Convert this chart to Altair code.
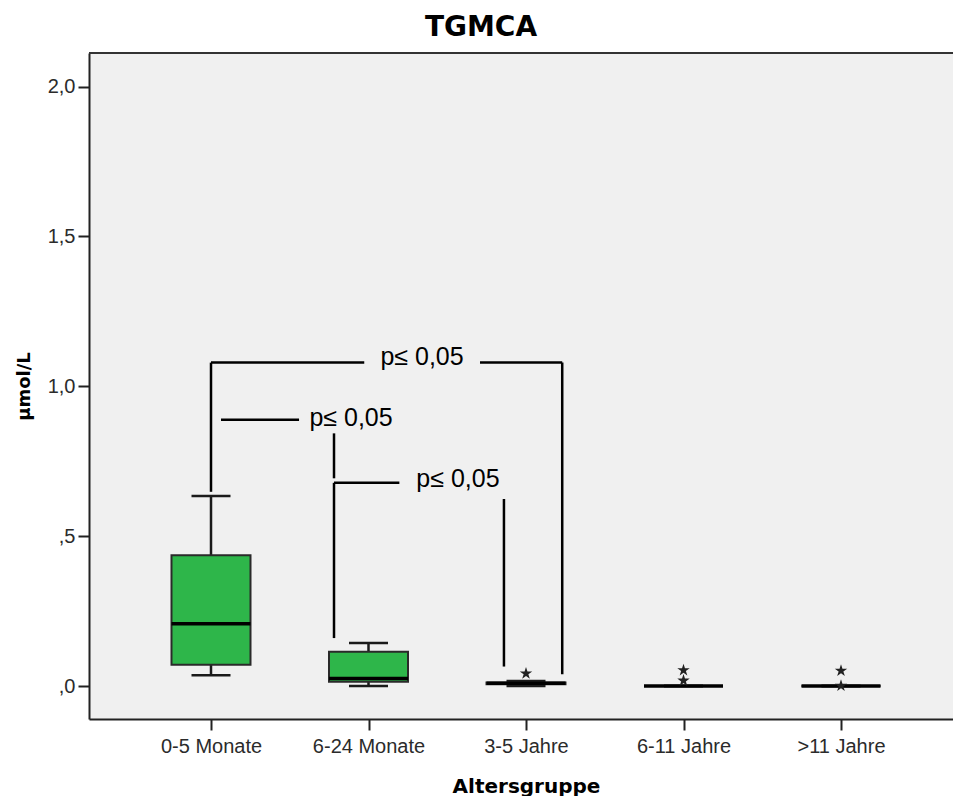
import json
import altair as alt
import pandas as pd

# ---------------- data ----------------
groups = ["0-5 Monate", "6-24 Monate", "3-5 Jahre", "6-11 Jahre", ">11 Jahre"]
group_idx = [0, 1, 2, 3, 4]
whisker_low = [0.036, 0.000, 0.000, 0.000, 0.000]
q1 = [0.071, 0.014, 0.006, 0.000, 0.000]
median = [0.208, 0.025, 0.009, 0.000, 0.000]
q3 = [0.436, 0.1145, 0.012, 0.000, 0.000]
whisker_high = [0.634, 0.1435, 0.017, 0.000, 0.000]

outlier_group = [2, 3, 3, 4, 4]
outlier_value = [0.042, 0.053, 0.018, 0.051, 0.001]

# significance brackets (x in category-index units, y in µmol/L)
seg_x = [0.0, 0.0, 1.708, 2.230, 0.0635, 0.781, 0.781, 0.781, 1.860]
seg_x2 = [0.0, 0.973, 2.230, 2.230, 0.559, 0.781, 1.196, 0.781, 1.860]
seg_y = [0.648, 1.079, 1.079, 0.039, 0.888, 0.693, 0.678, 0.160, 0.065]
seg_y2 = [1.079, 1.079, 1.079, 1.079, 0.888, 0.843, 0.678, 0.678, 0.624]

p_x = [1.340, 0.889, 1.568]
p_y = [1.099, 0.894, 0.691]
p_text = ["p≤ 0,05", "p≤ 0,05", "p≤ 0,05"]

y_ticks = [0.0, 0.5, 1.0, 1.5, 2.0]

# ---------------- tables ----------------
box_df = pd.DataFrame({
    "idx": group_idx, "group": groups, "lo": whisker_low, "q1": q1,
    "med": median, "q3": q3, "hi": whisker_high,
})
out_df = pd.DataFrame({"idx": outlier_group, "val": outlier_value})
seg_df = pd.DataFrame({"x": seg_x, "x2": seg_x2, "y": seg_y, "y2": seg_y2})
p_df = pd.DataFrame({"x": p_x, "y": p_y, "t": p_text})

label_expr = json.dumps(groups) + "[datum.value]"

xscale = alt.Scale(domain=[-0.7746, 4.7111], nice=False, zero=False, padding=0)
yscale = alt.Scale(domain=[-0.110, 2.112], nice=False, zero=False, padding=0)

x_axis = alt.Axis(
    values=group_idx, labelExpr=label_expr, title="Altersgruppe",
    grid=False, domainColor="#222222", domainWidth=2, tickColor="#222222",
    tickWidth=2, tickSize=11, labelFont="Liberation Sans", labelFontSize=20,
    labelColor="#2b2b2b", labelPadding=6, titleFont="DejaVu Sans",
    titleFontSize=20, titleFontWeight="bold", titleColor="#000000",
    titleX=437, titleY=73, titleBaseline="alphabetic", titleAnchor="start",
    titleAlign="center", labelFlush=False,
)
y_axis = alt.Axis(
    values=y_ticks,
    labelExpr="datum.value < 1 ? replace(format(datum.value, '.1f'), '0.', ',') : replace(format(datum.value, '.1f'), '.', ',')",
    title="µmol/L", grid=False, domainColor="#222222", domainWidth=2,
    tickColor="#222222", tickWidth=2, tickSize=11, labelFont="Liberation Sans",
    labelFontSize=20, labelColor="#2b2b2b", labelPadding=3,
    titleFont="DejaVu Sans", titleFontSize=18, titleFontWeight="bold",
    titleColor="#000000", titleX=-60, titleY=333, titleBaseline="alphabetic",
    titleAngle=-90, titleAlign="center", labelFlush=False,
)

base_box = alt.Chart(box_df)

whisker = base_box.mark_rule(color="#1a1a1a", strokeWidth=2.5).encode(
    x=alt.X("idx:Q", scale=xscale, axis=x_axis),
    y=alt.Y("lo:Q", scale=yscale, axis=y_axis),
    y2="hi:Q",
)
caps_lo = base_box.mark_tick(orient="horizontal", size=39, thickness=2.5, color="#1a1a1a", opacity=1).encode(
    x=alt.X("idx:Q", scale=xscale), y=alt.Y("lo:Q", scale=yscale)
)
caps_hi = base_box.mark_tick(orient="horizontal", size=39, thickness=2.5, color="#1a1a1a", opacity=1).encode(
    x=alt.X("idx:Q", scale=xscale), y=alt.Y("hi:Q", scale=yscale)
)
boxes = base_box.mark_bar(size=79, color="#2eb64a", stroke="#2a2a2a", strokeWidth=2).encode(
    x=alt.X("idx:Q", scale=xscale), y=alt.Y("q1:Q", scale=yscale), y2="q3:Q"
)
medians = base_box.mark_tick(orient="horizontal", size=79, thickness=3.5, color="#000000", opacity=1).encode(
    x=alt.X("idx:Q", scale=xscale), y=alt.Y("med:Q", scale=yscale)
)

star_path = ("M0,-1L0.2245,-0.309L0.951,-0.309L0.363,0.118L0.588,0.809L0,0.382"
             "L-0.588,0.809L-0.363,0.118L-0.951,-0.309L-0.2245,-0.309Z")
stars = alt.Chart(out_df).mark_point(shape=star_path, size=170, filled=True, color="#222222", opacity=1).encode(
    x=alt.X("idx:Q", scale=xscale), y=alt.Y("val:Q", scale=yscale)
)

brackets = alt.Chart(seg_df).mark_rule(color="#000000", strokeWidth=2.5).encode(
    x=alt.X("x:Q", scale=xscale), x2="x2:Q",
    y=alt.Y("y:Q", scale=yscale), y2="y2:Q",
)
ptext = alt.Chart(p_df).mark_text(font="Liberation Sans", fontSize=25, color="#000000", baseline="middle", align="center").encode(
    x=alt.X("x:Q", scale=xscale), y=alt.Y("y:Q", scale=yscale), text="t:N"
)

top_frame = alt.Chart(pd.DataFrame({"a": [0]})).mark_rule(color="#333333", strokeWidth=2).encode(
    x=alt.value(0), x2=alt.value(864), y=alt.value(0)
)

chart = alt.layer(
    top_frame, whisker, caps_lo, caps_hi, boxes, medians, stars, brackets, ptext
).properties(
    width=864, height=666,
    background="#ffffff",
    title=alt.TitleParams(
        text="TGMCA", font="DejaVu Sans", fontSize=28, fontWeight="bold",
        color="#000000", anchor="middle", dx=-40, dy=29, offset=17, baseline="alphabetic",
    ),
    autosize=alt.AutoSizeParams(type="none"),
    padding={"left": 89, "top": 53, "right": 0, "bottom": 77},
).configure_view(
    fill="#f0f0f0", stroke=None
)

chart.save("out.html", embed_options={"renderer": "svg", "actions": False})
